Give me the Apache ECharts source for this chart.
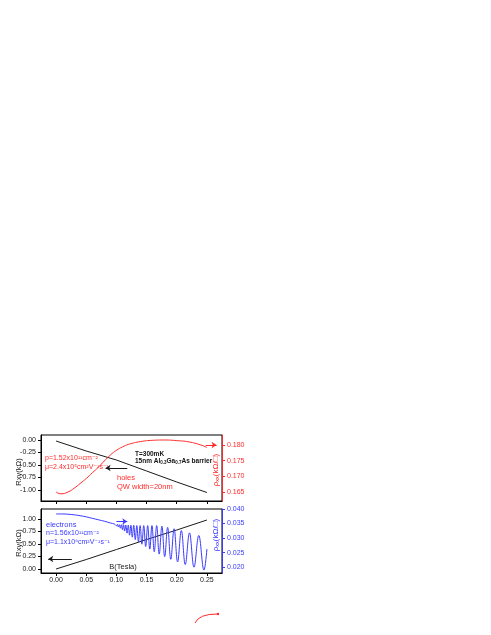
<!DOCTYPE html>
<html>
<head>
<meta charset="utf-8">
<title>Rxy and rho_xx vs B</title>
<script src="https://cdn.jsdelivr.net/npm/echarts@6/dist/echarts.min.js"></script>
<style>
html, body { margin: 0; padding: 0; background: #fff; }
#main { width: 491px; height: 635px; }
</style>
</head>
<body>
<div id="main"></div>
<script>
// tick values
var bTicks = [0, 0.05, 0.10, 0.15, 0.20, 0.25]
var rxyHoleTicks = [-1.00, -0.75, -0.50, -0.25, 0.00]
var rhoHoleTicks = [0.165, 0.170, 0.175, 0.180]
var rxyElecTicks = [0.00, 0.25, 0.50, 0.75, 1.00]
var rhoElecTicks = [0.020, 0.025, 0.030, 0.035, 0.040]

// holes (top panel)
var holeRxyB = [0, 0.05, 0.10, 0.15, 0.20, 0.25]
var holeRxy = [-0.02, -0.22, -0.40, -0.62, -0.84, -1.05]
var holeRhoB = [0, 0.008, 0.02, 0.03, 0.04, 0.05, 0.06, 0.07, 0.08, 0.09, 0.10, 0.11, 0.12, 0.14, 0.16, 0.18, 0.20, 0.22, 0.24, 0.25]
var holeRho = [0.1650, 0.1644, 0.1650, 0.1662, 0.1677, 0.1693, 0.1711, 0.1729, 0.1749, 0.1768, 0.1783, 0.1794, 0.1802, 0.1811, 0.1815, 0.1816, 0.1814, 0.1810, 0.1800, 0.1792]

// electrons (bottom panel)
var elecRxyB = [0, 0.05, 0.10, 0.15, 0.20, 0.25]
var elecRxy = [0.00, 0.19, 0.39, 0.59, 0.78, 0.98]
var elecRhoB = [
  0, 0.01, 0.02, 0.03, 0.04, 0.05, 0.06, 0.07, 0.08, 0.09, 0.097,
  0.1002, 0.1017, 0.1033, 0.1049, 0.1065, 0.1082, 0.1100, 0.1118, 0.1136, 0.1156,
  0.1176, 0.1197, 0.1218, 0.1240, 0.1263, 0.1287, 0.1312, 0.1338, 0.1365, 0.1393,
  0.1422, 0.1453, 0.1485, 0.1518, 0.1553, 0.1589, 0.1627, 0.1667, 0.1709, 0.1754,
  0.1800, 0.1849, 0.1901, 0.1956, 0.2014, 0.2076, 0.2141, 0.2211, 0.2286, 0.2365,
  0.2451, 0.2500
]
var elecRho = [
  0.0383, 0.0383, 0.0382, 0.0380, 0.0377, 0.0373, 0.0368, 0.0363, 0.0358, 0.0352, 0.0348,
  0.0342, 0.0347, 0.0338, 0.0346, 0.0334, 0.0346, 0.0329, 0.0346, 0.0324, 0.0345,
  0.0317, 0.0345, 0.0310, 0.0344, 0.0303, 0.0344, 0.0295, 0.0343, 0.0287, 0.0343,
  0.0279, 0.0343, 0.0271, 0.0343, 0.0262, 0.0343, 0.0253, 0.0343, 0.0245, 0.0341,
  0.0236, 0.0337, 0.0227, 0.0332, 0.0218, 0.0326, 0.0209, 0.0318, 0.0200, 0.0309,
  0.0190, 0.0262
]

function zip (xs, ys) {
  return xs.map(function (x, i) { return [x, ys[i]] })
}

var FONT = 'Liberation Sans, Arial, DejaVu Sans, sans-serif'
var RED = '#ff2b2b'
var BLUE = '#3b3bff'
var BLACK = '#1a1a1a'

function xAxisCfg (grid, showLabel) {
  return {
    type: 'value',
    gridIndex: grid,
    min: -0.025,
    max: 0.275,
    splitLine: { show: false },
    axisLine: { show: true, onZero: false, lineStyle: { color: '#000', width: 1 } },
    axisTick: { show: true, inside: false, length: 3, customValues: bTicks, lineStyle: { color: '#000' } },
    axisLabel: {
      show: showLabel,
      customValues: bTicks,
      margin: 4,
      fontSize: 7,
      fontFamily: FONT,
      color: '#222',
      formatter: function (v) { return v.toFixed(2) }
    }
  }
}

function yAxisCfg (grid, pos, min, max, ticks, digits, color) {
  return {
    type: 'value',
    gridIndex: grid,
    position: pos,
    min: min,
    max: max,
    splitLine: { show: false },
    axisLine: { show: true, onZero: false, lineStyle: { color: color, width: 1 } },
    axisTick: { show: true, inside: false, length: 3, customValues: ticks, lineStyle: { color: color } },
    axisLabel: {
      customValues: ticks,
      margin: 5,
      fontSize: 7,
      fontFamily: FONT,
      color: color === '#000' ? '#222' : color,
      formatter: function (v) { return v.toFixed(digits) }
    }
  }
}

function arrow (from, to, color) {
  return {
    silent: true,
    symbol: ['none', 'arrow'],
    symbolSize: 5,
    label: { show: false },
    lineStyle: { color: color, width: 1, type: 'solid' },
    emphasis: { disabled: true },
    data: [[{ coord: from }, { coord: to }]]
  }
}

function txt (x, y, text, color, extra, rot) {
  var st = {
    text: text,
    fill: color,
    fontSize: 7,
    fontFamily: FONT,
    verticalAlign: 'middle'
  }
  for (var k in (extra || {})) st[k] = extra[k]
  return { type: 'text', x: x, y: y, rotation: rot || 0, silent: true, style: st }
}

// rotated rho_xx title with subscript
function rhoTitle (y, color) {
  return {
    type: 'text', x: 216, y: y, rotation: Math.PI / 2, silent: true,
    style: {
      text: '{a|ρ}{s|xx}{a|(kΩ/□)}', align: 'center', verticalAlign: 'middle',
      rich: {
        a: { fontSize: 8, fontFamily: FONT, fill: color },
        s: { fontSize: 5.5, fontFamily: FONT, fill: color, padding: [3, 0, 0, 0] }
      }
    }
  }
}

var chart = echarts.init(document.getElementById('main'), null, { renderer: 'canvas' })

var option = {
  animation: false,
  backgroundColor: '#fff',
  grid: [
    { left: 41, top: 435, width: 181, height: 66, show: true, borderColor: '#000', borderWidth: 1, backgroundColor: 'transparent' },
    { left: 41, top: 509, width: 181, height: 64, show: true, borderColor: '#000', borderWidth: 1, backgroundColor: 'transparent' }
  ],
  xAxis: [xAxisCfg(0, false), xAxisCfg(1, true)],
  yAxis: [
    yAxisCfg(0, 'left', -1.22, 0.1, rxyHoleTicks, 2, '#000'),
    yAxisCfg(0, 'right', 0.1621, 0.1832, rhoHoleTicks, 3, RED),
    yAxisCfg(1, 'left', -0.08, 1.2, rxyElecTicks, 2, '#000'),
    yAxisCfg(1, 'right', 0.018, 0.040, rhoElecTicks, 3, BLUE)
  ],
  series: [
    {
      name: 'Rxy holes',
      type: 'line',
      xAxisIndex: 0,
      yAxisIndex: 0,
      data: zip(holeRxyB, holeRxy),
      showSymbol: false,
      lineStyle: { color: BLACK, width: 1 },
      markLine: arrow([0.118, -0.56], [0.082, -0.56], BLACK)
    },
    {
      name: 'rho holes',
      type: 'line',
      xAxisIndex: 0,
      yAxisIndex: 1,
      data: zip(holeRhoB, holeRho),
      smooth: true,
      showSymbol: false,
      lineStyle: { color: RED, width: 1 },
      markLine: arrow([0.248, 0.1800], [0.266, 0.1800], RED)
    },
    {
      name: 'Rxy electrons',
      type: 'line',
      xAxisIndex: 1,
      yAxisIndex: 2,
      data: zip(elecRxyB, elecRxy),
      showSymbol: false,
      lineStyle: { color: BLACK, width: 1 },
      markLine: arrow([0.026, 0.2], [-0.013, 0.2], BLACK)
    },
    {
      name: 'rho electrons',
      type: 'line',
      xAxisIndex: 1,
      yAxisIndex: 3,
      data: zip(elecRhoB, elecRho),
      smooth: 0.4,
      showSymbol: false,
      lineStyle: { color: BLUE, width: 1 },
      markLine: arrow([0.100, 0.0357], [0.118, 0.0357], BLUE)
    }
  ],
  graphic: [
    // axis titles, read bottom to top
    txt(19, 472, 'Rxy(kΩ)', '#222', { align: 'center', fontSize: 7.5 }, Math.PI / 2),
    txt(19, 543, 'Rxy(kΩ)', '#222', { align: 'center', fontSize: 7.5 }, Math.PI / 2),
    // top panel notes
    txt(45, 458, 'p=1.52x10¹¹cm⁻²', RED),
    txt(45, 467, 'μ=2.4x10⁵cm²V⁻¹s⁻¹', RED),
    txt(135, 454, 'T=300mK', '#111', { fontWeight: 'bold', fontSize: 6.5 }),
    txt(135, 461, '{b|15nm Al}{s|0.3}{b|Ga}{s|0.7}{b|As barrier}', '#111', {
      rich: {
        b: { fontSize: 6.5, fontWeight: 'bold', fontFamily: FONT, fill: '#111' },
        s: { fontSize: 4.5, fontWeight: 'bold', fontFamily: FONT, fill: '#111', padding: [4, 0, 0, 0] }
      }
    }),
    txt(117, 478, 'holes', RED, { fontSize: 7.5 }),
    txt(117, 487, 'QW width=20nm', RED, { fontSize: 7.5 }),
    // bottom panel notes
    txt(46, 525, 'electrons', BLUE, { fontSize: 7.5 }),
    txt(46, 533, 'n=1.56x10¹¹cm⁻²', BLUE),
    txt(46, 542, 'μ=1.1x10⁶cm²V⁻¹s⁻¹', BLUE),
    txt(123, 567, 'B(Tesla)', '#222', { align: 'center', fontSize: 7.5 }),
    // rho titles sitting just inside the right edge
    rhoTitle(470, RED),
    rhoTitle(535, BLUE),
    // stray red stroke under the figure
    {
      type: 'bezierCurve', silent: true,
      shape: { x1: 195, y1: 623, x2: 217, y2: 614, cpx1: 199, cpy1: 614 },
      style: { stroke: RED, lineWidth: 1, fill: 'none' }
    },
    {
      type: 'circle', silent: true,
      shape: { cx: 218, cy: 614, r: 1.2 },
      style: { fill: RED }
    }
  ]
}

chart.setOption(option)
</script>
</body>
</html>
